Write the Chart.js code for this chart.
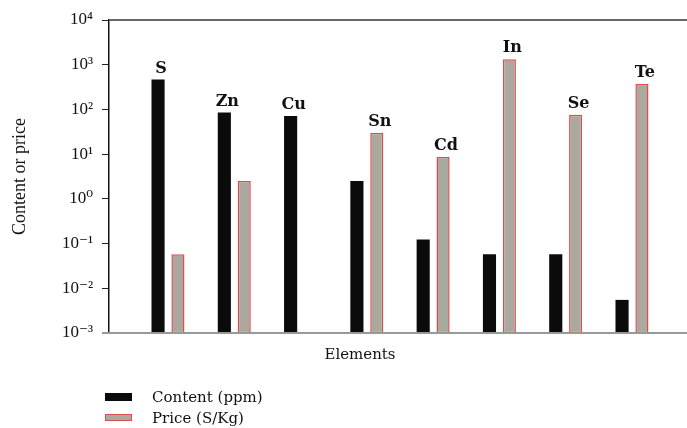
<!DOCTYPE html>
<html>
<head>
<meta charset="utf-8">
<script src="https://cdn.jsdelivr.net/npm/chart.js@4/dist/chart.umd.min.js"></script>
<style>
  body { margin: 0; background: #fff; }
  #wrap { position: relative; width: 687px; height: 428px; font-family: "DejaVu Serif", serif; color: #111; }
  #xtitle { position: absolute; left: 0; width: 720px; top: 345px; text-align: center; font-size: 15px; }
  #legend { position: absolute; left: 105px; top: 386px; font-size: 15px; }
  .item { height: 21px; display: flex; align-items: center; }
  .box { width: 27px; box-sizing: border-box; margin-right: 20px; }
</style>
</head>
<body>
<div id="wrap">
  <canvas id="chart-elements"></canvas>
  <div id="xtitle">Elements</div>
  <div id="legend"></div>
</div>
<script>
const categories = ["S", "Zn", "Cu", "Sn", "Cd", "In", "Se", "Te"];
const content = [470, 85, 71, 2.5, 0.124, 0.058, 0.058, 0.0055];
const price = [0.058, 2.5, null, 30, 8.6, 1320, 76, 370];
const tickValues = [1e-3, 1e-2, 1e-1, 1, 1e1, 1e2, 1e3, 1e4];
const tickLabels = ["10⁻³", "10⁻²", "10⁻¹", "10⁰", "10¹", "10²", "10³", "10⁴"];

const serif = "'Liberation Serif', 'DejaVu Serif', serif";
const wide = "'DejaVu Serif', serif";

// element names above the taller bar of each group, plus the frame lines
const elementLabels = {
    id: "elementLabels",
    afterDatasetsDraw(chart) {
        const ctx = chart.ctx;
        const m0 = chart.getDatasetMeta(0);
        const m1 = chart.getDatasetMeta(1);
        ctx.save();
        ctx.font = "bold 16px " + wide;
        ctx.fillStyle = "#111";
        ctx.textAlign = "center";
        ctx.textBaseline = "bottom";
        categories.forEach((name, i) => {
            let bar = m0.data[i];
            if (price[i] != null && price[i] > content[i]) bar = m1.data[i];
            ctx.fillText(name, bar.x + 3, bar.y - 3);
        });
        const a = chart.chartArea;
        ctx.strokeStyle = "#666";
        ctx.lineWidth = 2;
        ctx.beginPath();
        ctx.moveTo(a.left, a.top);
        ctx.lineTo(a.right, a.top);
        ctx.stroke();
        ctx.strokeStyle = "#999";
        ctx.beginPath();
        ctx.moveTo(a.left - 7, a.bottom);
        ctx.lineTo(a.right, a.bottom);
        ctx.stroke();
        ctx.restore();
    },
};

const data = {
    datasets: [
        {
            label: "Content (ppm)",
            backgroundColor: "#0b0b0b",
            borderColor: "#0b0b0b",
            borderWidth: 0,
            data: content.map((v, i) => ({ x: i, y: v })),
        },
        {
            label: "Price (S/Kg)",
            backgroundColor: "#a9a99f",
            borderColor: "#e04c4c",
            borderWidth: 1.5,
            borderSkipped: false,
            data: price.map((v, i) => ({ x: i, y: v })),
        },
    ],
};

const config = {
    type: "bar",
    data: data,
    options: {
        responsive: true,
        maintainAspectRatio: false,
        animation: false,
        categoryPercentage: 0.6,
        barPercentage: 0.66,
        layout: { padding: { top: 20, right: 0, bottom: 95, left: 0 } },
        plugins: { legend: { display: false }, tooltip: { enabled: false } },
        scales: {
            x: {
                type: "linear",
                display: false,
                offset: false,
                min: -0.89,
                max: 7.83,
                afterBuildTicks(scale) { scale.ticks = categories.map((c, i) => ({ value: i })); },
            },
            y: {
                type: "logarithmic",
                min: 1e-3,
                max: 1e4,
                afterFit(scale) { scale.width = 109; },
                afterBuildTicks(scale) { scale.ticks = tickValues.map(v => ({ value: v })); },
                ticks: {
                    color: "#111",
                    padding: 9,
                    font: { family: serif, size: 17 },
                    callback: (v, i) => tickLabels[i],
                },
                grid: { drawOnChartArea: false, drawTicks: true, tickLength: 7, color: "#222" },
                border: { display: true, color: "#111", width: 1.5 },
                title: {
                    display: true,
                    text: "Content or price",
                    color: "#111",
                    font: { family: serif, size: 18 },
                    padding: { top: 9, bottom: 0 },
                },
            },
        },
    },
    plugins: [elementLabels],
};

const canvas = document.getElementById("chart-elements");
const chart = new Chart(canvas, config);

// legend built from the datasets
const legend = document.getElementById("legend");
data.datasets.forEach((ds, i) => {
    const item = document.createElement("div");
    item.className = "item";
    const box = document.createElement("span");
    box.className = "box";
    box.style.height = i === 0 ? "8px" : "7px";
    box.style.background = ds.backgroundColor;
    if (ds.borderWidth) box.style.border = "1.5px solid " + ds.borderColor;
    const text = document.createElement("span");
    text.textContent = ds.label;
    item.appendChild(box);
    item.appendChild(text);
    legend.appendChild(item);
});
</script>
</body>
</html>
